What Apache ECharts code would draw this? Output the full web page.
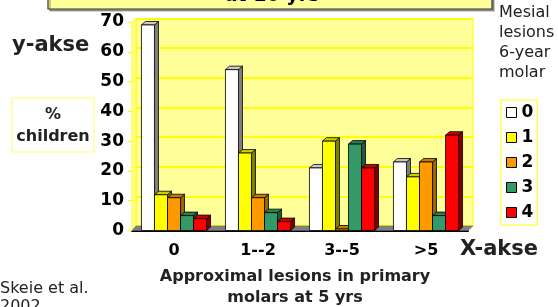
<!DOCTYPE html>
<html>
<head>
<meta charset="utf-8">
<script src="https://cdn.jsdelivr.net/npm/echarts@6/dist/echarts.min.js"></script>
<style>
  html, body { margin: 0; padding: 0; background: #fff; }
  #main { width: 558px; height: 307px; }
</style>
</head>
<body>
<div id="main"></div>
<script>
// categories = approximal lesions in primary molars at 5 yrs
const categories = ['0', '1--2', '3--5', '>5'];
// series = number of mesial lesions in 6-year molar at 10 yrs
const seriesNames = ['0', '1', '2', '3', '4'];
const s0 = [69, 54, 21, 23];
const s1 = [12, 26, 30, 18];
const s2 = [11, 11, 0.5, 23];
const s3 = [5, 6, 29, 5];
const s4 = [4, 3, 21, 32];
const yTicks = [0, 10, 20, 30, 40, 50, 60, 70];

const values = [s0, s1, s2, s3, s4];
const fronts = ['#FFFFFF', '#FFFF00', '#FF9900', '#339966', '#FF0000'];
const tops = ['#C8C8C8', '#CCCC00', '#CC7A00', '#2A7F55', '#CC0000'];
const sides = ['#808080', '#808000', '#996600', '#1F5C3D', '#800000'];

const FONT = 'DejaVu Sans';
const DX = 4, DY = 3.5;   // 3d depth

// front grid (bars, labels) and back wall grid
const front = { left: 132, right: 90, top: 22, bottom: 76.5 };
const back = { left: 136, right: 85, top: 18.5, bottom: 81 };
const W = 558, H = 307;

function makeRender(si) {
  return function (params, api) {
    const cat = api.value(0);
    const base = api.coord([cat, 0]);
    const top = api.coord([cat, api.value(1)]);
    const band = api.size([1, 0])[0];
    const bw = band * 0.155;
    const x0 = base[0] - 2.5 * bw + si * bw;
    const x1 = x0 + bw;
    const yt = top[1], yb = base[1];
    const st = { stroke: '#000', lineWidth: 0.8 };
    return {
      type: 'group',
      children: [
        { type: 'polygon', shape: { points: [[x1, yt], [x1 + DX, yt - DY], [x1 + DX, yb - DY], [x1, yb]] },
          style: Object.assign({ fill: sides[si] }, st) },
        { type: 'polygon', shape: { points: [[x0, yt], [x0 + DX, yt - DY], [x1 + DX, yt - DY], [x1, yt]] },
          style: Object.assign({ fill: tops[si] }, st) },
        { type: 'rect', shape: { x: x0, y: yt, width: bw, height: yb - yt },
          style: Object.assign({ fill: fronts[si] }, st) }
      ]
    };
  };
}

const series = seriesNames.map((name, si) => ({
  name: name,
  type: 'custom',
  xAxisIndex: 0,
  yAxisIndex: 0,
  z: 3,
  itemStyle: { color: fronts[si], borderColor: '#000', borderWidth: 1 },
  renderItem: makeRender(si),
  data: values[si].map((v, i) => [i, v])
}));

const fy0 = H - front.bottom, fx0 = front.left, fx1 = W - front.right;
const by0 = H - back.bottom, bx0 = back.left, bx1 = W - back.right, byt = back.top;

const option = {
  animation: false,
  grid: [
    { left: front.left, right: front.right, top: front.top, bottom: front.bottom },
    { left: back.left, right: back.right, top: back.top, bottom: back.bottom,
      show: true, backgroundColor: '#FFFF99', borderColor: '#FFFF00', borderWidth: 1 }
  ],
  xAxis: [
    {
      type: 'category', gridIndex: 0, data: categories,
      axisLine: { lineStyle: { color: '#000', width: 2 } },
      axisTick: { length: 5, lineStyle: { color: '#555' } },
      axisLabel: { color: '#000', fontFamily: FONT, fontWeight: 'bold', fontSize: 16, margin: 12 }
    },
    { type: 'category', gridIndex: 1, data: categories, show: false }
  ],
  yAxis: [
    {
      type: 'value', gridIndex: 0, min: yTicks[0], max: yTicks[yTicks.length - 1], interval: 10,
      axisLine: { show: true, lineStyle: { color: '#FFFF00' } },
      axisTick: { show: true, length: 4, lineStyle: { color: '#FFFF00' } },
      splitLine: { show: false },
      axisLabel: { color: '#000', fontFamily: FONT, fontWeight: 'bold', fontSize: 17, margin: 8 }
    },
    {
      type: 'value', gridIndex: 1, min: yTicks[0], max: yTicks[yTicks.length - 1], interval: 10,
      axisLine: { show: false }, axisTick: { show: false }, axisLabel: { show: false },
      splitLine: { lineStyle: { color: '#FFFF00', width: 2 } }
    }
  ],
  legend: {
    orient: 'vertical', left: 501, top: 100,
    itemWidth: 10, itemHeight: 10, itemGap: 8, icon: 'rect',
    padding: [4, 4, 4, 5],
    backgroundColor: '#fff', borderColor: '#FFFF00', borderWidth: 1,
    textStyle: { color: '#000', fontFamily: FONT, fontWeight: 'bold', fontSize: 17, lineHeight: 16 },
    data: seriesNames.map((n, i) => ({ name: n, itemStyle: { color: fronts[i], borderColor: '#000', borderWidth: 1 } }))
  },
  graphic: [
    // side wall and floor
    { type: 'polygon', z: 1, shape: { points: [[fx0, fy0], [fx0, front.top], [bx0, byt], [bx0, by0]] },
      style: { fill: '#FFFF99', stroke: '#FFFF00', lineWidth: 1 } },
    { type: 'polygon', z: 1, shape: { points: [[fx0, fy0], [bx0, by0], [bx1, by0], [fx1, fy0]] },
      style: { fill: '#808080', stroke: '#666', lineWidth: 0.5 } },
    // title box cut off at the top
    { type: 'rect', z: 5, shape: { x: 48, y: -30, width: 444, height: 39 },
      style: { fill: '#FFFF99', stroke: '#333', lineWidth: 1.2, shadowColor: 'rgba(0,0,0,0.35)', shadowOffsetX: 2, shadowOffsetY: 2 } },
    { type: 'text', z: 6, x: 272, y: 6, style: { text: 'at 10 yrs', align: 'center', verticalAlign: 'bottom',
      font: 'bold 19px "DejaVu Sans"', fill: '#000' } },
    { type: 'text', x: 12, y: 46, style: { text: 'y-akse', verticalAlign: 'middle',
      font: 'bold 21px "DejaVu Sans"', fill: '#222' } },
    { type: 'rect', shape: { x: 12, y: 98, width: 82, height: 54 },
      style: { fill: '#fff', stroke: '#FFFF66', lineWidth: 1 } },
    { type: 'text', x: 53, y: 126, style: { text: '%\nchildren', align: 'center', verticalAlign: 'middle',
      lineHeight: 22, font: 'bold 16px "DejaVu Sans"', fill: '#222' } },
    { type: 'text', x: 499, y: 3, style: { text: 'Mesial\nlesions\n6-year\nmolar', verticalAlign: 'top',
      lineHeight: 20, font: '16px "DejaVu Sans"', fill: '#222' } },
    { type: 'text', x: 460, y: 250, style: { text: 'X-akse', verticalAlign: 'middle',
      font: 'bold 21px "DejaVu Sans"', fill: '#222' } },
    { type: 'text', x: 295, y: 287, style: { text: 'Approximal lesions in primary\nmolars at 5 yrs', align: 'center',
      verticalAlign: 'middle', lineHeight: 21, font: 'bold 16px "DejaVu Sans"', fill: '#222' } },
    { type: 'text', x: 0, y: 280, style: { text: 'Skeie et al.\n2002', verticalAlign: 'top',
      lineHeight: 18, font: '16px "DejaVu Sans"', fill: '#222' } }
  ],
  series: series
};

const chart = echarts.init(document.getElementById('main'));
chart.setOption(option);
</script>
</body>
</html>
